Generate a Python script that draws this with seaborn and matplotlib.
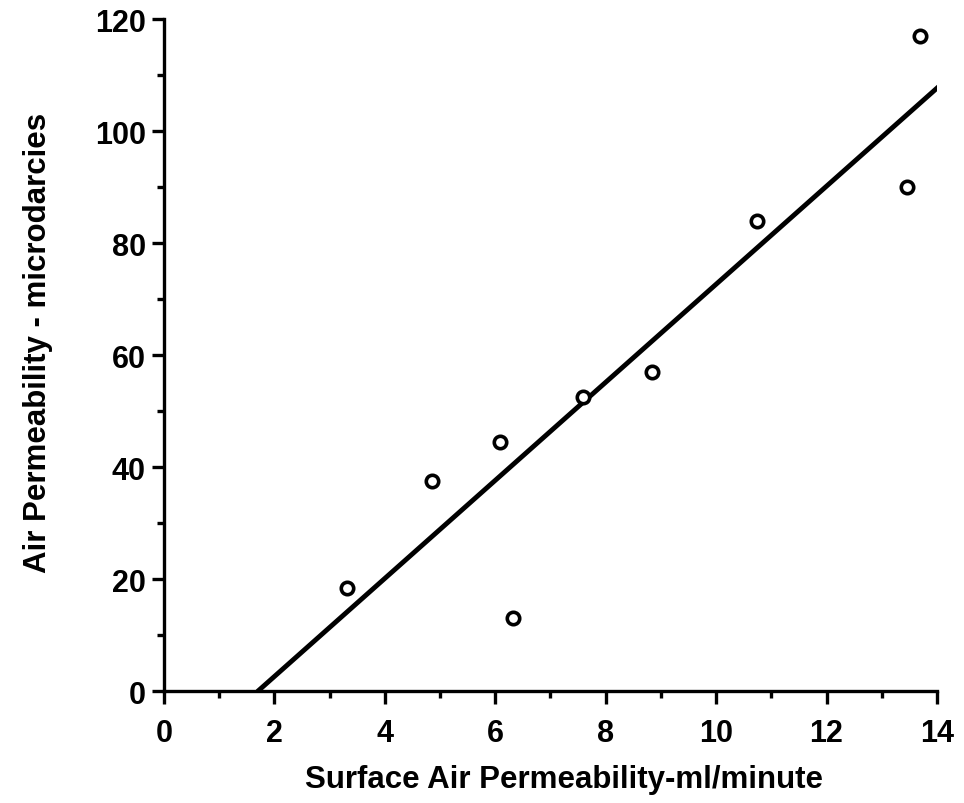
import numpy as np
import pandas as pd
import matplotlib
matplotlib.use("Agg")
import matplotlib.pyplot as plt
import seaborn as sns
from matplotlib.ticker import MultipleLocator

sns.set_theme(style="ticks")
plt.rcParams['font.family'] = ['Liberation Sans', 'DejaVu Sans']
plt.rcParams.update({"text.color": "black", "axes.labelcolor": "black",
                     "xtick.color": "black", "ytick.color": "black"})

# Data
surface_perm = [3.32, 4.86, 6.09, 6.32, 7.59, 8.84, 10.74, 13.46, 13.70]
air_perm = [18.5, 37.5, 44.5, 13.0, 52.5, 57.0, 84.0, 90.0, 117.0]

# fitted line end points
fit_x = [1.7, 14.15]
fit_y = [0.0, 109.0]

df = pd.DataFrame({"x": surface_perm, "y": air_perm})
df_fit = pd.DataFrame({"x": fit_x, "y": fit_y})

fig = plt.figure(figsize=(9.64, 8.04), dpi=100)
ax = fig.add_axes([0.170, 0.139, 0.802, 0.836])

sns.lineplot(x="x", y="y", data=df_fit, color="black", linewidth=3.5, ax=ax)
sns.scatterplot(x="x", y="y", data=df, marker="o", s=80, facecolor="white",
                edgecolor="black", linewidth=2.6, ax=ax, zorder=3)

ax.set_xlim(0, 14)
ax.set_ylim(0, 120)
ax.xaxis.set_major_locator(MultipleLocator(2))
ax.xaxis.set_minor_locator(MultipleLocator(1))
ax.yaxis.set_major_locator(MultipleLocator(20))
ax.yaxis.set_minor_locator(MultipleLocator(10))

for side in ["top", "right"]:
    ax.spines[side].set_visible(False)
for side in ["left", "bottom"]:
    ax.spines[side].set_linewidth(2.4)
    ax.spines[side].set_color("black")

ax.tick_params(which="major", length=9, width=2.4, labelsize=22)
ax.tick_params(which="minor", length=5, width=2.4)
ax.tick_params(axis="x", which="major", pad=10)
ax.tick_params(axis="y", which="major", pad=4)
for lbl in ax.get_xticklabels() + ax.get_yticklabels():
    lbl.set_fontweight("bold")

ax.set_xlabel("Surface Air Permeability-ml/minute", fontsize=22.5, fontweight="bold", labelpad=12)
ax.set_ylabel("Air Permeability - microdarcies", fontsize=22.5, fontweight="bold", labelpad=30)
ax.xaxis.label.set_x(0.518)
ax.yaxis.label.set_y(0.52)
ax.grid(False)

fig.savefig("out.png", dpi=100)
